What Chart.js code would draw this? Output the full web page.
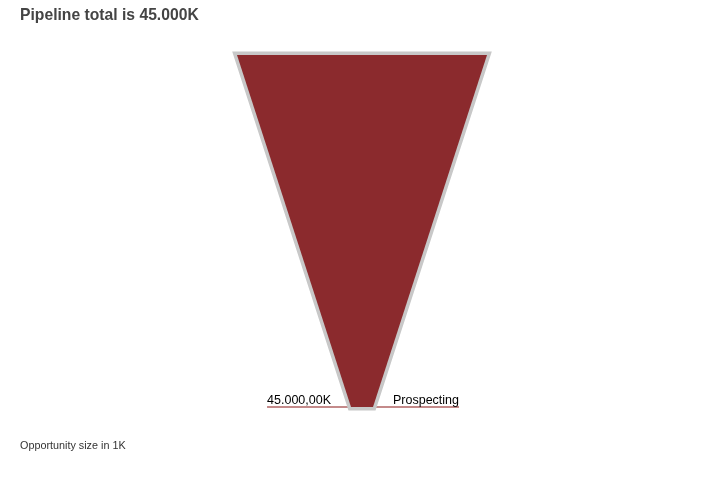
<!DOCTYPE html>
<html>
<head>
<meta charset="utf-8">
<script src="https://cdn.jsdelivr.net/npm/chart.js@4"></script>
<style>
  html, body { margin: 0; padding: 0; background: #fff; }
  #wrap { width: 724px; height: 480px; position: relative; }
</style>
</head>
<body>
<div id="wrap"><canvas id="funnel"></canvas></div>
<script>
// funnel stages and opportunity size (in 1K)
const stages = ["Prospecting"];
const values = [45000];
const unit = "K";
const footNote = "Opportunity size in 1K";

const neckRatio = 0.088;
const fillColor = "#8b2a2d";
const edgeColor = "#c8c8c8";
const leaderColor = "#c48a8a";

function fmt(v, dec) {
  const parts = v.toFixed(dec).split(".");
  parts[0] = parts[0].replace(/\B(?=(\d{3})+(?!\d))/g, ".");
  return parts.join(",");
}

const total = values.reduce((a, b) => a + b, 0);
const maxVal = Math.max(...values);

const funnelPlugin = {
  id: "funnel",
  afterDatasetsDraw(chart) {
    const ctx = chart.ctx;
    const meta = chart.getDatasetMeta(0);
    meta.data.forEach((bar, i) => {
      const left = Math.min(bar.base, bar.x);
      const right = Math.max(bar.base, bar.x);
      const top = bar.y - bar.height / 2;
      const bottom = bar.y + bar.height / 2;
      const mid = (left + right) / 2;
      const half = (right - left) / 2;
      const neck = half * neckRatio;

      // leader lines + labels
      ctx.save();
      ctx.font = "12.5px 'Liberation Sans', Arial, sans-serif";
      ctx.fillStyle = "#000";
      ctx.textBaseline = "alphabetic";
      const valTxt = fmt(values[i], 2) + unit;
      const gap = 17;
      const lx1 = mid - neck - 3;
      const lx0 = lx1 - gap - ctx.measureText(valTxt).width;
      const rx0 = mid + neck + 3;
      const rx1 = rx0 + gap + ctx.measureText(stages[i]).width;
      ctx.strokeStyle = leaderColor;
      ctx.lineWidth = 2;
      ctx.beginPath();
      ctx.moveTo(lx0, bottom);
      ctx.lineTo(lx1, bottom);
      ctx.moveTo(rx0, bottom);
      ctx.lineTo(rx1, bottom);
      ctx.stroke();
      ctx.textAlign = "left";
      ctx.fillText(valTxt, lx0, bottom - 3);
      ctx.textAlign = "right";
      ctx.fillText(stages[i], rx1, bottom - 3);

      // funnel segment
      ctx.beginPath();
      ctx.moveTo(left, top);
      ctx.lineTo(right, top);
      ctx.lineTo(mid + neck, bottom);
      ctx.lineTo(mid - neck, bottom);
      ctx.closePath();
      ctx.lineJoin = "miter";
      ctx.strokeStyle = edgeColor;
      ctx.lineWidth = 7;
      ctx.stroke();
      ctx.fillStyle = fillColor;
      ctx.fill();
      ctx.restore();
    });
  },
  afterDraw(chart) {
    const ctx = chart.ctx;
    ctx.save();
    ctx.textAlign = "left";
    ctx.textBaseline = "alphabetic";
    ctx.fillStyle = "#444";
    ctx.font = "bold 15.7px 'Liberation Sans', Arial, sans-serif";
    ctx.fillText("Pipeline total is " + fmt(total, 0) + unit, 20, 20);
    ctx.fillStyle = "#333";
    ctx.font = "10.8px 'Liberation Sans', Arial, sans-serif";
    ctx.fillText(footNote, 20, 449);
    ctx.restore();
  }
};

new Chart(document.getElementById("funnel"), {
  type: "bar",
  data: {
    labels: stages,
    datasets: [{
      data: values.map(v => [-v / 2, v / 2]),
      backgroundColor: "rgba(0,0,0,0)",
      borderWidth: 0,
      barPercentage: 1,
      categoryPercentage: 1
    }]
  },
  options: {
    indexAxis: "y",
    responsive: true,
    maintainAspectRatio: false,
    animation: false,
    layout: { padding: { left: 237, right: 237, top: 55, bottom: 73 } },
    plugins: {
      legend: { display: false },
      title: { display: false },
      tooltip: { enabled: false }
    },
    scales: {
      x: { display: false, min: -maxVal / 2, max: maxVal / 2 },
      y: { display: false }
    }
  },
  plugins: [funnelPlugin]
});
</script>
</body>
</html>
